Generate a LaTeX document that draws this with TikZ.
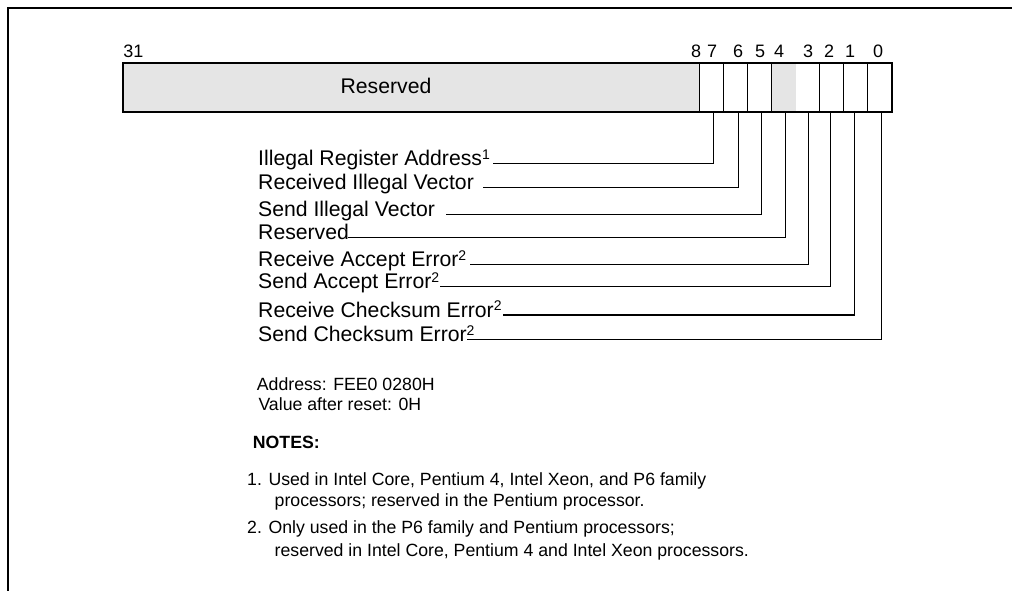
\documentclass[tikz,border=0pt]{standalone}
\usepackage{fontspec}
\setmainfont{Liberation Sans}
\newcommand\supnum[1]{\raisebox{0.55ex}{\fontsize{14}{14}\selectfont #1}}
\begin{document}
\begin{tikzpicture}[x=1pt,y=-1pt,
  cell/.style={draw=black,line width=0.9pt,minimum height=48pt,inner sep=0pt,anchor=north west},
  bitcell/.style={cell,minimum width=24pt},
  grayfill/.style={fill=black!10},
  bitnum/.style={anchor=base,inner sep=0pt,font=\fontsize{18}{20}\selectfont},
  lbl/.style={anchor=base west,inner sep=0pt,font=\fontsize{21.2}{25}\selectfont},
  note/.style={anchor=base west,inner sep=0pt,font=\fontsize{17.7}{21}\selectfont},
  conn/.style={line width=1.4pt},
  frame/.style={line width=2pt}]
\useasboundingbox (0,0) rectangle (1012,591);
% frame
\draw[frame] (8.3,591) -- (8.3,8.3) -- (1012,8.3);
% register cells
\node[cell,grayfill,minimum width=576.6pt] (res) at (122.7,62.7) {};
\foreach \b/\k in {7/0,6/1,5/2,4/3,3/4,2/5,1/6,0/7}{
  \node[bitcell] (b\b) at (699.3+24*\k,62.7) {};
}
\fill[black!10] ([xshift=0.45pt,yshift=-0.45pt]b4.north west) rectangle ([xshift=-0.45pt,yshift=0.45pt]b4.south east);
\draw[line width=2pt] (res.north west) rectangle (b0.south east);
\node[lbl] (restxt) at (386,93.5) [anchor=base] {Reserved};
% bit numbers
\node[bitnum] (n31) at (133.5,58) {31};
\foreach \n/\x in {8/696,7/712,6/738,5/760,4/779,3/808,2/829,1/850,0/878}{
  \node[bitnum] (n\n) at (\x,58) {\n};
}
% labels
\node[lbl] (l7) at (258,165.3) {Illegal Register Address\supnum{1}};
\node[lbl] (l6) at (258,189.7) {Received Illegal Vector};
\node[lbl] (l5) at (258,216.3) {Send Illegal Vector};
\node[lbl] (l4) at (258,239.7) {Reserved};
\node[lbl] (l3) at (258,266.4) {Receive Accept Error\supnum{2}};
\node[lbl] (l2) at (258,288.8) {Send Accept Error\supnum{2}};
\node[lbl] (l1) at (258,317) {Receive Checksum Error\supnum{2}};
\node[lbl] (l0) at (258,341.7) {Send Checksum Error\supnum{2}};
% connector ends
\coordinate (e7) at (493,163.3);
\coordinate (e6) at (483,187.7);
\coordinate (e5) at (446,214.3);
\coordinate (e4) at (348,237.7);
\coordinate (e3) at (470,264.7);
\coordinate (e2) at (440,286.3);
\coordinate (e1) at (503,315);
\coordinate (e0) at (467,339.7);
\foreach \b/\dx in {7/1.7,6/2.7,5/2,4/2,3/1,2/-1,1/-1.3,0/1.5}{
  \draw[conn] ([xshift=\dx pt]b\b.south) |- (e\b);
}
% address and notes
\node[note] (addr) at (256.7,390) {Address: FEE0 0280H};
\node[note] (val) at (258.3,410) {Value after reset: 0H};
\node[note,font=\fontsize{17.7}{21}\selectfont\bfseries] (notes) at (252.7,448.3) {NOTES:};
\node[note] (n1a) at (247,485) {1. Used in Intel Core, Pentium 4, Intel Xeon, and P6 family};
\node[note] (n1b) at (274.5,506.7) {processors; reserved in the Pentium processor.};
\node[note] (n2a) at (247,533.3) {2. Only used in the P6 family and Pentium processors;};
\node[note] (n2b) at (274.5,556.7) {reserved in Intel Core, Pentium 4 and Intel Xeon processors.};
\end{tikzpicture}
\end{document}
